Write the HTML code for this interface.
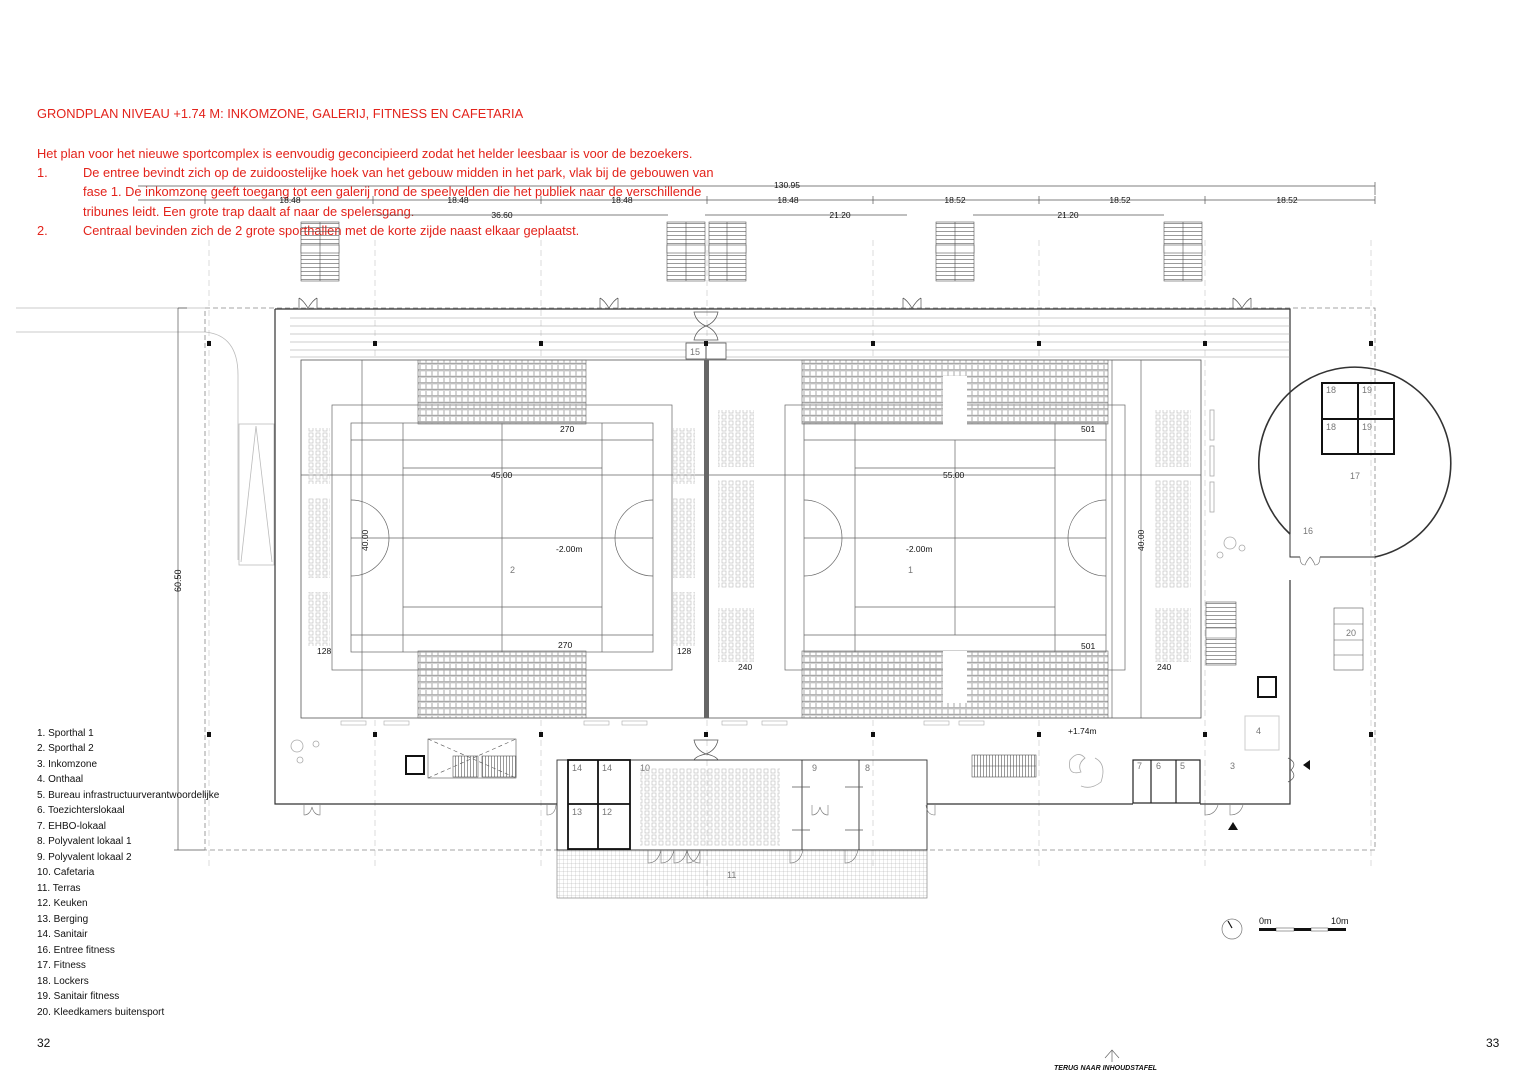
<!DOCTYPE html>
<html><head><meta charset="utf-8"><style>
html,body{margin:0;padding:0;background:#fff;width:1536px;height:1084px;overflow:hidden}
svg{display:block}
.r{fill:#e3231b;font-family:"Liberation Sans",sans-serif;font-size:12.85px}
.t{font-family:"Liberation Sans",sans-serif;fill:#111}
.g{font-family:"Liberation Sans",sans-serif;fill:#777;font-size:9px}
</style></head><body>
<svg width="1536" height="1084" viewBox="0 0 1536 1084" xmlns="http://www.w3.org/2000/svg">
<defs>
<pattern id="seat" width="7" height="6" patternUnits="userSpaceOnUse"><rect x="1" y="1" width="4" height="4" fill="none" stroke="#bbb" stroke-width="0.6"/></pattern>
<pattern id="bl" width="6" height="6.5" patternUnits="userSpaceOnUse"><rect x="0.5" y="0.5" width="5" height="5" fill="none" stroke="#aaa" stroke-width="0.5"/><line x1="0" y1="6" x2="6" y2="6" stroke="#777" stroke-width="0.6"/></pattern>
<pattern id="st" width="10" height="4" patternUnits="userSpaceOnUse"><line x1="0" y1="3.5" x2="10" y2="3.5" stroke="#555" stroke-width="0.6"/></pattern>
<pattern id="vs" width="3" height="10" patternUnits="userSpaceOnUse"><line x1="2.5" y1="0" x2="2.5" y2="10" stroke="#555" stroke-width="0.6"/></pattern>
<pattern id="grid" width="4" height="4" patternUnits="userSpaceOnUse"><path d="M4 0V4H0" fill="none" stroke="#aaa" stroke-width="0.5"/></pattern>
</defs>

<text x="37" y="118" class="r">GRONDPLAN NIVEAU +1.74 M: INKOMZONE, GALERIJ, FITNESS EN CAFETARIA</text>
<text x="37" y="158" class="r">Het plan voor het nieuwe sportcomplex is eenvoudig geconcipieerd zodat het helder leesbaar is voor de bezoekers.</text>
<text x="37" y="177" class="r">1.</text><text x="83" y="177" class="r">De entree bevindt zich op de zuidoostelijke hoek van het gebouw midden in het park, vlak bij de gebouwen van</text>
<text x="83" y="196" class="r">fase 1. De inkomzone geeft toegang tot een galerij rond de speelvelden die het publiek naar de verschillende</text>
<text x="83" y="216" class="r">tribunes leidt. Een grote trap daalt af naar de spelersgang.</text>
<text x="37" y="235" class="r">2.</text><text x="83" y="235" class="r">Centraal bevinden zich de 2 grote sporthallen met de korte zijde naast elkaar geplaatst.</text>

<g stroke="#555" stroke-width="0.7" fill="none">
<path d="M138 186H1375V195M1375 186v-4"/>
<path d="M138 200H1375M205 196v8M373 196v8M541 196v8M707 196v8M873 196v8M1039 196v8M1205 196v8M1375 196v8"/>
<path d="M373 215H668M705 215H907M973 215H1164"/>
</g>
<g class="t" font-size="8.5" text-anchor="middle">
<text x="787" y="188">130.95</text>
<text x="290" y="203">18.48</text><text x="458" y="203">18.48</text><text x="622" y="203">18.48</text><text x="788" y="203">18.48</text>
<text x="955" y="203">18.52</text><text x="1120" y="203">18.52</text><text x="1287" y="203">18.52</text>
<text x="502" y="218">36.60</text><text x="840" y="218">21.20</text><text x="1068" y="218">21.20</text>
</g>

<g stroke="#ccc" stroke-width="0.7" stroke-dasharray="6 4" fill="none">
<path d="M209 240V870M375 240V870M541 240V870M707 240V900M873 240V870M1039 240V870M1205 240V870M1371 240V870"/>
</g>

<g stroke="#555" stroke-width="0.6">
<rect x="301" y="222" width="38" height="59" fill="url(#st)"/><rect x="301" y="245" width="38" height="8" fill="#fff"/><line x1="320" y1="222" x2="320" y2="281"/>
<rect x="667" y="222" width="38" height="59" fill="url(#st)"/><rect x="667" y="245" width="38" height="8" fill="#fff"/><line x1="686" y1="222" x2="686" y2="281"/>
<rect x="709" y="222" width="37" height="59" fill="url(#st)"/><rect x="709" y="245" width="37" height="8" fill="#fff"/><line x1="727" y1="222" x2="727" y2="281"/>
<rect x="936" y="222" width="38" height="59" fill="url(#st)"/><rect x="936" y="245" width="38" height="8" fill="#fff"/><line x1="955" y1="222" x2="955" y2="281"/>
<rect x="1164" y="222" width="38" height="59" fill="url(#st)"/><rect x="1164" y="245" width="38" height="8" fill="#fff"/><line x1="1183" y1="222" x2="1183" y2="281"/>
</g>

<g stroke="#bbb" stroke-width="0.8" fill="none">
<path d="M16 308H205M16 332H205Q238 335 238 375V560"/>
<rect x="239" y="424" width="35" height="141"/>
<path d="M256 426L241 562M256 426L272 562"/>
</g>
<g stroke="#555" stroke-width="0.7" fill="none">
<path d="M178 308H187M178 308V850M174 850H205"/>
</g>
<text class="t" font-size="9" transform="translate(181 592) rotate(-90)">60.50</text>

<rect x="205" y="308" width="1170" height="542" fill="none" stroke="#888" stroke-width="0.8" stroke-dasharray="5 3"/>

<g stroke="#333" stroke-width="1.2" fill="none">
<path d="M275 309H1290V534M1290 580V804H1200M1133 804H927M557 804H275V309"/>
</g>
<g stroke="#999" stroke-width="0.5"><path d="M290 318H1290M290 326H1290M290 334H1290M290 342H1290M290 350H1290M290 357H1290"/></g>

<rect x="301" y="360" width="900" height="358" fill="#fff" stroke="#555" stroke-width="0.8"/>
<rect x="704" y="360" width="5" height="358" fill="#666"/>
<rect x="686" y="343" width="40" height="16" fill="#fff" stroke="#555" stroke-width="0.8"/><line x1="706" y1="343" x2="706" y2="359" stroke="#555"/>
<text x="690" y="355" class="g" font-size="10">15</text>

<g stroke="#666" stroke-width="0.7" fill="none">
<rect x="332" y="405" width="340" height="265"/>
<rect x="351" y="423" width="302" height="229"/>
<path d="M351 440H653M351 635H653M403 423V652M602 423V652M403 468H602M403 607H602M351 538H653M502 423V652"/>
<path d="M351 500A38 38 0 0 1 351 576M653 500A38 38 0 0 0 653 576"/>
<path d="M301 475H704M362 360V718"/>
</g>
<rect x="418" y="360" width="168" height="64" fill="url(#bl)" stroke="#666" stroke-width="0.6"/>
<rect x="418" y="651" width="168" height="67" fill="url(#bl)" stroke="#666" stroke-width="0.6"/>
<g fill="url(#seat)">
<rect x="308" y="428" width="22" height="56"/><rect x="308" y="498" width="22" height="80"/><rect x="308" y="592" width="22" height="54"/>
<rect x="673" y="428" width="22" height="56"/><rect x="673" y="498" width="22" height="80"/><rect x="673" y="592" width="22" height="54"/>
</g>
<g class="t" font-size="8.5">
<text x="560" y="432">270</text><text x="558" y="648">270</text><text x="317" y="654">128</text><text x="677" y="654">128</text>
<text x="491" y="478">45.00</text><text x="556" y="552">-2.00m</text>
<text transform="translate(368 551) rotate(-90)">40.00</text>
</g>
<text x="510" y="573" class="g" font-size="10">2</text>

<g stroke="#666" stroke-width="0.7" fill="none">
<rect x="785" y="405" width="340" height="265"/>
<rect x="804" y="423" width="302" height="229"/>
<path d="M804 440H1106M804 635H1106M855 423V652M1055 423V652M855 468H1055M855 607H1055M804 538H1106M955 440V635"/>
<path d="M804 500A38 38 0 0 1 804 576M1106 500A38 38 0 0 0 1106 576"/>
<path d="M709 475H1201M1141 360V718M1112 360V718"/>
</g>
<rect x="802" y="360" width="306" height="64" fill="url(#bl)" stroke="#666" stroke-width="0.6"/>
<rect x="943" y="376" width="24" height="49" fill="#fff"/>
<rect x="802" y="651" width="306" height="67" fill="url(#bl)" stroke="#666" stroke-width="0.6"/>
<rect x="943" y="651" width="24" height="52" fill="#fff"/>
<g fill="url(#seat)">
<rect x="718" y="410" width="36" height="57"/><rect x="718" y="480" width="36" height="108"/><rect x="718" y="608" width="36" height="54"/>
<rect x="1155" y="410" width="36" height="57"/><rect x="1155" y="480" width="36" height="108"/><rect x="1155" y="608" width="36" height="54"/>
</g>
<g class="t" font-size="8.5">
<text x="1081" y="432">501</text><text x="1081" y="649">501</text><text x="738" y="670">240</text><text x="1157" y="670">240</text>
<text x="943" y="478">55.00</text><text x="906" y="552">-2.00m</text><text x="1068" y="734">+1.74m</text>
<text transform="translate(1144 551) rotate(-90)">40.00</text>
</g>
<text x="908" y="573" class="g" font-size="10">1</text>

<g fill="#111">
<rect x="207" y="341" width="4" height="5"/><rect x="373" y="341" width="4" height="5"/><rect x="539" y="341" width="4" height="5"/><rect x="871" y="341" width="4" height="5"/><rect x="1037" y="341" width="4" height="5"/><rect x="1203" y="341" width="4" height="5"/><rect x="1369" y="341" width="4" height="5"/><rect x="704" y="341" width="4" height="5"/>
<rect x="207" y="732" width="4" height="5"/><rect x="373" y="732" width="4" height="5"/><rect x="539" y="732" width="4" height="5"/><rect x="871" y="732" width="4" height="5"/><rect x="1037" y="732" width="4" height="5"/><rect x="1203" y="732" width="4" height="5"/><rect x="1369" y="732" width="4" height="5"/><rect x="704" y="732" width="4" height="5"/>
</g>

<g fill="none" stroke="#aaa" stroke-width="0.6">
<rect x="341" y="721" width="25" height="4"/><rect x="384" y="721" width="25" height="4"/><rect x="584" y="721" width="25" height="4"/><rect x="622" y="721" width="25" height="4"/><rect x="722" y="721" width="25" height="4"/><rect x="762" y="721" width="25" height="4"/><rect x="924" y="721" width="25" height="4"/><rect x="959" y="721" width="25" height="4"/>
</g>

<g stroke="#555" stroke-width="0.7" fill="none">
<path d="M299 298Q303 300 308 308Q313 300 317 298M299 298V308M317 298V308"/>
<path d="M600 298Q604 300 609 308Q614 300 618 298M600 298V308M618 298V308"/>
<path d="M903 298Q907 300 912 308Q917 300 921 298M903 298V308M921 298V308"/>
<path d="M1233 298Q1237 300 1242 308Q1247 300 1251 298M1233 298V308M1251 298V308"/>
<path d="M694 312H718Q716 322 706 326Q696 322 694 312ZM694 340H718Q716 330 706 326Q696 330 694 340Z"/>
<path d="M694 740H718Q716 750 706 754Q696 750 694 740ZM694 760H718Q716 756 706 754Q696 756 694 760Z"/>
</g>

<g stroke="#555" stroke-width="0.6" fill="none">
<rect x="428" y="739" width="88" height="39"/>
<path d="M428 739L516 778M428 778L516 739" stroke-dasharray="4 3"/>
<rect x="453" y="756" width="25" height="21" fill="url(#vs)"/><rect x="482" y="756" width="34" height="21" fill="url(#vs)"/>
</g>
<rect x="406" y="756" width="18" height="18" fill="none" stroke="#111" stroke-width="2"/>
<rect x="972" y="755" width="64" height="22" fill="url(#vs)" stroke="#555" stroke-width="0.6"/>
<line x1="972" y1="766" x2="1036" y2="766" stroke="#555" stroke-width="0.6"/>
<g fill="none" stroke="#aaa" stroke-width="0.8">
<circle cx="297" cy="746" r="6"/><circle cx="316" cy="744" r="3"/><circle cx="300" cy="760" r="3"/>
<path d="M1070 760q8 -10 15 -2q-8 6 -4 14q-14 4 -11 -12ZM1095 758q12 6 6 24q-10 8 -20 4"/>
<circle cx="1230" cy="543" r="6"/><circle cx="1242" cy="548" r="3"/><circle cx="1220" cy="555" r="3"/>
</g>

<rect x="557" y="850" width="370" height="48" fill="url(#grid)" stroke="#888" stroke-width="0.7"/>
<text x="727" y="878" class="g">11</text>
<g stroke="#333" stroke-width="0.9" fill="none">
<rect x="557" y="760" width="370" height="90"/>
<path d="M802 760V850M859 760V850"/>
</g>
<g stroke="#111" stroke-width="1.8" fill="none"><rect x="568" y="760" width="62" height="89"/><path d="M568 804H630M598 760V849"/></g>
<g class="g" font-size="9"><text x="572" y="771">14</text><text x="602" y="771">14</text><text x="572" y="815">13</text><text x="602" y="815">12</text><text x="640" y="771">10</text><text x="812" y="771">9</text><text x="865" y="771">8</text></g>
<g fill="url(#seat)"><rect x="640" y="768" width="140" height="78"/></g>
<g stroke="#555" stroke-width="0.7"><path d="M792 787H810M792 830H810M845 787H863M845 830H863"/></g>
<g stroke="#777" stroke-width="0.6" fill="none">
<path d="M648 850v13q10 0 13 -13M661 850v13q10 0 13 -13M674 850v13q10 0 13 -13M687 850v13q10 0 13 -13M700 850v13q-10 0 -13 -13"/>
<path d="M790 850v13q10 0 13 -13M845 850v13q10 0 13 -13M547 805v10q8 0 9 -10M935 805v10q-8 0 -9 -10M1205 805v10q10 0 13 -10M1230 805v10q10 0 13 -10"/>
<path d="M304 805v10q6 0 8 -8q2 8 8 8v-10M812 805v10q6 0 8 -8q2 8 8 8v-10"/>
</g>

<g stroke="#222" stroke-width="1.2" fill="none"><rect x="1133" y="760" width="67" height="43"/><path d="M1151 760V803M1176 760V803"/></g>
<g class="g"><text x="1137" y="769">7</text><text x="1156" y="769">6</text><text x="1180" y="769">5</text><text x="1230" y="769">3</text></g>
<rect x="1245" y="716" width="34" height="34" fill="none" stroke="#ccc" stroke-width="1"/><text x="1256" y="734" class="g">4</text>
<rect x="1258" y="677" width="18" height="20" fill="none" stroke="#111" stroke-width="2"/>
<rect x="1206" y="602" width="30" height="63" fill="url(#st)" stroke="#555" stroke-width="0.6"/><rect x="1206" y="628" width="30" height="10" fill="#fff" stroke="#555" stroke-width="0.5"/>
<g fill="none" stroke="#aaa" stroke-width="0.8"><rect x="1210" y="410" width="4" height="30"/><rect x="1210" y="446" width="4" height="30"/><rect x="1210" y="482" width="4" height="30"/></g>
<path d="M1288 758q10 5 3 12q7 7 -3 12" fill="none" stroke="#555" stroke-width="0.7"/>
<path d="M1310 760l-7 5l7 5zM1233 822l-5 8h10z" fill="#111"/>

<path d="M1290 534A96 96 0 1 1 1375 557" fill="none" stroke="#333" stroke-width="1.6"/>
<path d="M1290 534V557H1300M1320 557H1375" fill="none" stroke="#333" stroke-width="1"/>
<path d="M1300 557q0 8 5 8q2 -5 5 -8q3 3 5 8q5 0 5 -8" fill="none" stroke="#666" stroke-width="0.6"/>
<g stroke="#111" stroke-width="2" fill="none"><rect x="1322" y="383" width="72" height="71"/><path d="M1358 383V454M1322 419H1394"/></g>
<g class="g"><text x="1326" y="393">18</text><text x="1362" y="393">19</text><text x="1326" y="430">18</text><text x="1362" y="430">19</text><text x="1350" y="479">17</text><text x="1303" y="534">16</text></g>
<g stroke="#555" stroke-width="0.6" fill="none"><rect x="1334" y="608" width="29" height="62"/><path d="M1334 624H1363M1334 640H1363M1334 655H1363"/></g>
<text x="1346" y="636" class="g">20</text>

<g class="t" font-size="10">
<text x="37" y="736">1. Sporthal 1</text><text x="37" y="751">2. Sporthal 2</text><text x="37" y="767">3. Inkomzone</text><text x="37" y="782">4. Onthaal</text>
<text x="37" y="798">5. Bureau infrastructuurverantwoordelijke</text><text x="37" y="813">6. Toezichterslokaal</text><text x="37" y="829">7. EHBO-lokaal</text>
<text x="37" y="844">8. Polyvalent lokaal 1</text><text x="37" y="860">9. Polyvalent lokaal 2</text><text x="37" y="875">10. Cafetaria</text>
<text x="37" y="891">11. Terras</text><text x="37" y="906">12. Keuken</text><text x="37" y="922">13. Berging</text><text x="37" y="937">14. Sanitair</text>
<text x="37" y="953">16. Entree fitness</text><text x="37" y="968">17. Fitness</text><text x="37" y="984">18. Lockers</text>
<text x="37" y="999">19. Sanitair fitness</text><text x="37" y="1015">20. Kleedkamers buitensport</text>
</g>

<circle cx="1232" cy="929" r="10" fill="none" stroke="#777" stroke-width="0.7"/>
<line x1="1228" y1="921" x2="1232" y2="928" stroke="#111" stroke-width="1.2"/>
<g><rect x="1259" y="928" width="17" height="3" fill="#111"/><rect x="1276" y="928" width="18" height="3" fill="#fff" stroke="#111" stroke-width="0.4"/><rect x="1294" y="928" width="17" height="3" fill="#111"/><rect x="1311" y="928" width="17" height="3" fill="#fff" stroke="#111" stroke-width="0.4"/><rect x="1328" y="928" width="18" height="3" fill="#111"/></g>
<text x="1259" y="924" class="t" font-size="9">0m</text><text x="1331" y="924" class="t" font-size="9">10m</text>

<text x="37" y="1047" class="t" font-size="12">32</text>
<text x="1486" y="1047" class="t" font-size="12">33</text>
<path d="M1105 1058L1112 1050L1119 1058M1112 1050V1062" fill="none" stroke="#666" stroke-width="0.7"/>
<text x="1054" y="1070" class="t" font-size="7" font-style="italic" font-weight="bold">TERUG NAAR INHOUDSTAFEL</text>
</svg>
</body></html>
